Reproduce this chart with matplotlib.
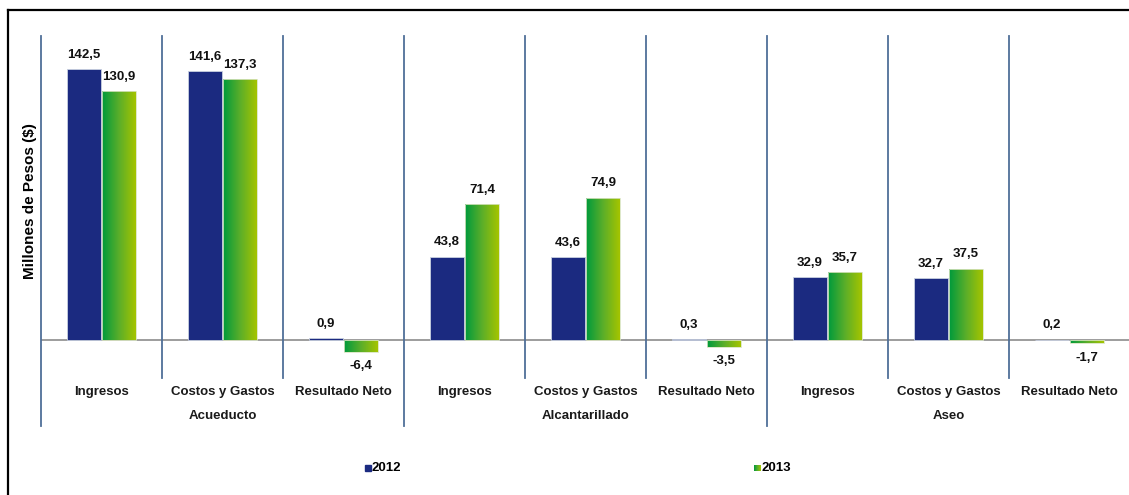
import matplotlib
matplotlib.use("Agg")
import matplotlib.pyplot as plt
import numpy as np
from matplotlib.colors import LinearSegmentedColormap
from matplotlib.lines import Line2D
from matplotlib.patches import Rectangle

plt.rcParams['font.family'] = ['Liberation Sans', 'DejaVu Sans']

# Datos
categorias = ["Ingresos", "Costos y Gastos", "Resultado Neto"] * 3
grupos = ["Acueducto", "Alcantarillado", "Aseo"]
anios = ["2012", "2013"]
v2012 = [142.5, 141.6, 0.9, 43.8, 43.6, 0.3, 32.9, 32.7, 0.2]
v2013 = [130.9, 137.3, -6.4, 71.4, 74.9, -3.5, 35.7, 37.5, -1.7]

W, H = 1129, 495
azul = "#1b2a80"
verde = LinearSegmentedColormap.from_list("verde", ["#009a3c", "#5aae2a", "#a4c400"])
linea_sep = "#4f6f98"

fig = plt.figure(figsize=(W / 100, H / 100), dpi=100)
ax = fig.add_axes([41 / W, 1 - 378 / H, 1089 / W, 342 / H])

x = np.arange(len(categorias))
ancho = 0.28

barras12 = ax.bar(x - ancho / 2 - 0.004, v2012, ancho, color=azul,
                  edgecolor="#c8d0e0", linewidth=0.6, zorder=2)
barras13 = ax.bar(x + ancho / 2 + 0.004, v2013, ancho, color="none",
                  edgecolor="#d8e4c0", linewidth=0.6, zorder=3)

# Degradado horizontal verde para 2013
grad = np.linspace(0, 1, 64).reshape(1, -1)
for b in barras13:
    x0, y0 = b.get_x(), b.get_y()
    w, h = b.get_width(), b.get_height()
    im = ax.imshow(grad, extent=[x0, x0 + w, y0, y0 + h], aspect="auto",
                   cmap=verde, zorder=2, interpolation="bicubic")
    im.set_clip_path(b)

# Etiquetas de valor
def fmt(v):
    return f"{v:.1f}".replace(".", ",")

for barras, vals in ((barras12, v2012), (barras13, v2013)):
    for b, v in zip(barras, vals):
        xc = b.get_x() + b.get_width() / 2
        if v >= 0:
            ax.annotate(fmt(v), (xc, v), xytext=(0, 6), textcoords="offset points",
                        ha="center", va="bottom", fontsize=9.5, fontweight="bold",
                        color="#111111")
        else:
            ax.annotate(fmt(v), (xc, v), xytext=(0, -6), textcoords="offset points",
                        ha="center", va="top", fontsize=9.5, fontweight="bold",
                        color="#111111")

ax.set_xlim(-0.5, len(categorias) - 0.5)
ax.set_ylim(-20, 160)
ax.axis("off")

# Línea del cero
ax.axhline(0, color="#8c8c8c", linewidth=1.2, zorder=1)

# Separadores de categorías y de grupos
for i in range(len(categorias) + 1):
    xs = i - 0.5
    if i % 3 == 0:
        ax.plot([xs, xs], [-45, 160], color=linea_sep, linewidth=1.3,
                clip_on=False, zorder=1)
    else:
        ax.plot([xs, xs], [-20, 160], color=linea_sep, linewidth=1.3,
                clip_on=False, zorder=1)

# Etiquetas del eje de categorías
for xi, c in zip(x, categorias):
    ax.text(xi, -27.5, c, ha="center", va="center", fontsize=9.5,
            fontweight="bold", color="#1a1a1a", clip_on=False)
for g, nombre in enumerate(grupos):
    ax.text(3 * g + 1, -40, nombre, ha="center", va="center", fontsize=9.5,
            fontweight="bold", color="#1a1a1a", clip_on=False)

fig.text(30 / W, 1 - 201 / H, "Millones de Pesos ($)", rotation=90,
         ha="center", va="center", fontsize=11, fontweight="bold")

# Leyenda
for (xm, color, texto) in ((365, azul, anios[0]), (754, None, anios[1])):
    if color:
        fig.add_artist(Rectangle((xm / W, 1 - 471 / H), 6 / W, 6 / H,
                                 transform=fig.transFigure, color=color))
    else:
        lax = fig.add_axes([xm / W, 1 - 471 / H, 6 / W, 6 / H])
        lax.imshow(grad, aspect="auto", cmap=verde)
        lax.axis("off")
    fig.text((xm + 7) / W, 1 - 468 / H, texto, ha="left", va="center",
             fontsize=9.5, fontweight="bold")

# Marco exterior
fig.add_artist(Line2D([7.5 / W, 7.5 / W], [0, 1 - 9.5 / H],
                      transform=fig.transFigure, color="black", linewidth=1.6))
fig.add_artist(Line2D([7.5 / W, 1], [1 - 9.5 / H, 1 - 9.5 / H],
                      transform=fig.transFigure, color="black", linewidth=1.6))

fig.savefig("out.png", dpi=100)
